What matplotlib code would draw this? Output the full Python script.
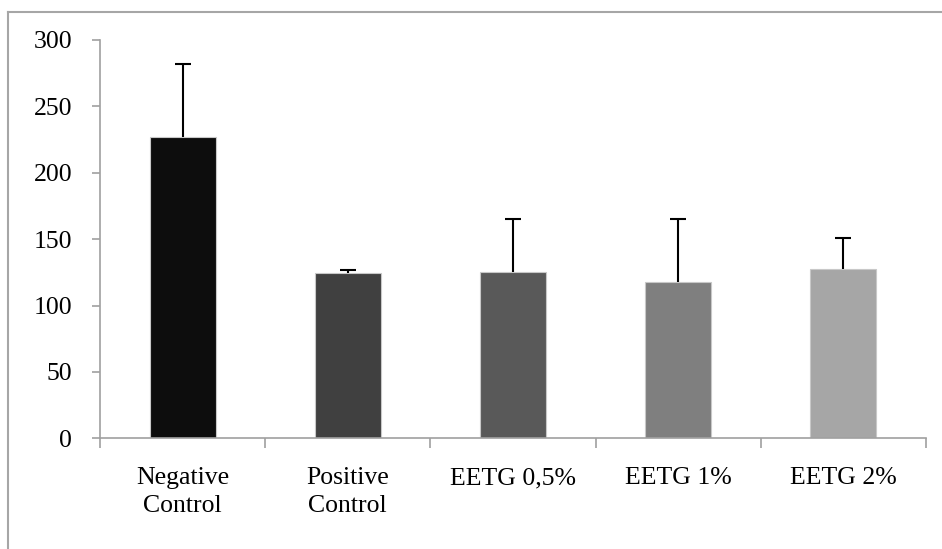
import numpy as np
import matplotlib
matplotlib.use('Agg')
import matplotlib.pyplot as plt
from matplotlib.lines import Line2D

# group means with upper standard deviation
groups = ['Negative\nControl', 'Positive\nControl', 'EETG 0,5%', 'EETG 1%', 'EETG 2%']
means = [227, 124.5, 125.5, 118, 127.3]
sd = [55, 2.5, 40, 47, 23.3]
shades = ['#0d0d0d', '#404040', '#595959', '#7f7f7f', '#a6a6a6']
yticks = [0, 50, 100, 150, 200, 250, 300]

plt.rcParams['font.family'] = ['Liberation Serif', 'DejaVu Serif']
axcol = '#a0a0a0'

fig = plt.figure(figsize=(9.42, 5.49), dpi=100)
ax = fig.add_axes([100/942, 1-438.3/549, 826/942, 398.3/549])

x = np.arange(len(groups))
ax.bar(x, means, width=0.4, color=shades, edgecolor='#c8c8c8', linewidth=0.8, zorder=2)
eb = ax.errorbar(x, means, yerr=[np.zeros(len(sd)), sd], fmt='none',
                 ecolor='black', elinewidth=1.5, capsize=5.5, capthick=1.5, zorder=3)
eb.lines[1][0].set_visible(False)   # only the upper whisker

ax.set_xlim(-0.5, len(groups) - 0.5)
ax.set_ylim(0, 300)
ax.set_yticks(yticks)
ax.set_xticks(x)
ax.set_xticklabels(groups, fontsize=18.5, linespacing=1.3)
ax.set_xticks(np.arange(len(groups) + 1) - 0.5, minor=True)
ax.tick_params(axis='x', which='major', length=0, pad=21)
ax.tick_params(axis='x', which='minor', length=7, width=1.2, color=axcol, direction='out')
ax.tick_params(axis='y', length=6, width=1.2, color=axcol, direction='out',
               labelsize=18.5, pad=14)

for s in ['top', 'right']:
    ax.spines[s].set_visible(False)
for s in ['left', 'bottom']:
    ax.spines[s].set_color(axcol)
    ax.spines[s].set_linewidth(1.2)

# chart area frame
fig.add_artist(Line2D([8/942, 1], [1-12/549, 1-12/549], transform=fig.transFigure,
                      color='#a6a6a6', lw=1.5))
fig.add_artist(Line2D([8/942, 8/942], [0, 1-12/549], transform=fig.transFigure,
                      color='#a6a6a6', lw=1.5))

fig.savefig('out.png', dpi=100)
